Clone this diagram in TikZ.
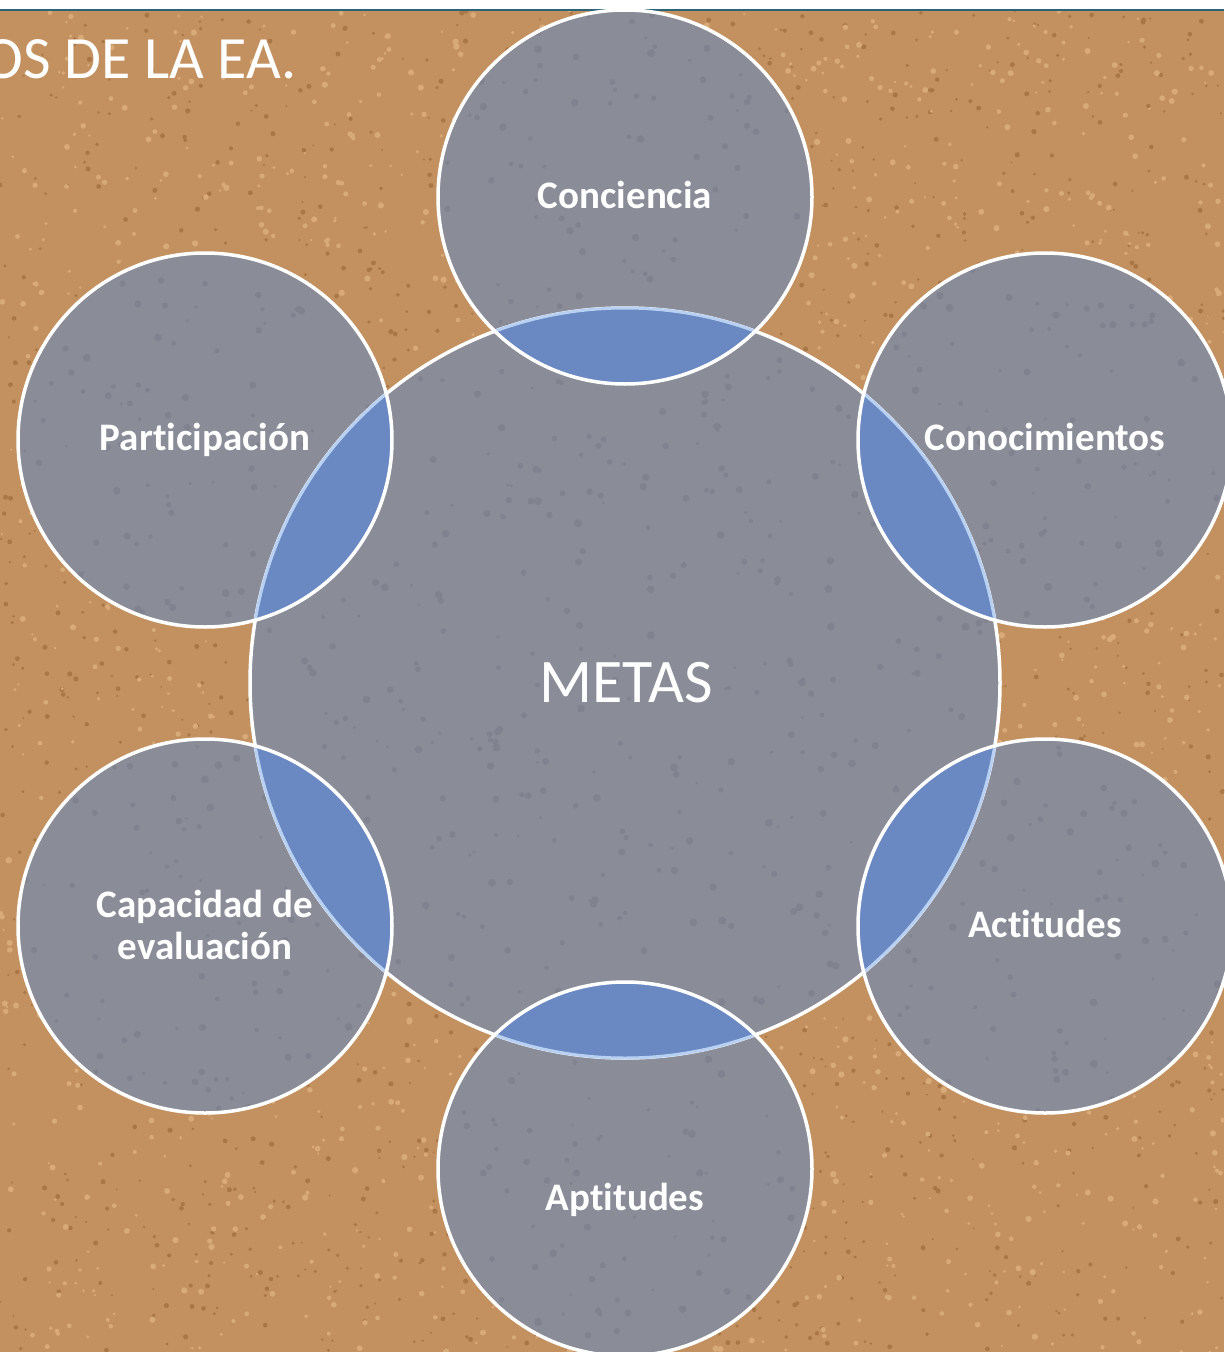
\documentclass[tikz,border=0pt]{standalone}
\usepackage{fontspec}
\usetikzlibrary{calc}
\setmainfont{Carlito}[Ligatures=NoCommon]
\definecolor{cork}{HTML}{C3915F}
\definecolor{corkdark}{HTML}{A97646}
\definecolor{corklight}{HTML}{D8AA78}
\definecolor{greyfill}{HTML}{8A8C98}
\definecolor{greydark}{HTML}{80828F}
\definecolor{lensblue}{HTML}{6A89C3}
\definecolor{lensedge}{HTML}{B8D0F2}
\definecolor{topline}{HTML}{2B6478}
\begin{document}
\begin{tikzpicture}[x=1pt,y=-1pt,
  ringfill/.style={fill=greyfill},
  ringline/.style={draw=white,line width=3.5pt},
  lbl/.style={text=white,font=\bfseries\fontsize{39}{42}\selectfont,align=center,inner sep=0pt},
  bigl/.style={text=white,font=\fontsize{62}{62}\selectfont,inner sep=0pt},
  titl/.style={text=white,font=\fontsize{60}{60}\selectfont,inner sep=0pt}]
\useasboundingbox (0,0) rectangle (1224,1352);
% background
\fill[cork] (0,9) rectangle (1224,1352);
\fill[white] (0,0) rectangle (1224,9);
\pgfmathsetseed{7}
\begin{scope}
\clip (0,10) rectangle (1224,1352);
\foreach \i in {1,...,2000}{
  \pgfmathsetmacro{\xx}{rnd*1224}\pgfmathsetmacro{\yy}{10+rnd*1342}\pgfmathsetmacro{\rr}{1+rnd*1.6}
  \fill[corkdark] (\xx,\yy) circle (\rr pt);}
\foreach \i in {1,...,2000}{
  \pgfmathsetmacro{\xx}{rnd*1224}\pgfmathsetmacro{\yy}{10+rnd*1342}\pgfmathsetmacro{\rr}{1.2+rnd*2}
  \fill[corklight] (\xx,\yy) circle (\rr pt);}
\end{scope}
\coordinate (tl) at (0,9.5);
\coordinate (tr) at (1224,9.5);
\draw[topline,line width=2pt] (tl) -- (tr);
\node[titl,anchor=base east] (title) at (297,78) {OS DE LA EA.};
% circles
\coordinate (M) at (625,683);
\coordinate (s1) at (625,197);
\coordinate (s2) at (1045,440);
\coordinate (s3) at (1045,926);
\coordinate (s4) at (625,1169);
\coordinate (s5) at (205,926);
\coordinate (s6) at (205,440);
\fill[ringfill] (M) circle (375pt);
\foreach \s in {s1,s2,s3,s4,s5,s6}{\fill[ringfill] (\s) circle (187pt);}
\begin{scope}
\clip (M) circle (375pt);
\foreach \i in {1,...,450}{
  \pgfmathsetmacro{\xx}{250+rnd*750}\pgfmathsetmacro{\yy}{308+rnd*750}\pgfmathsetmacro{\rr}{1.5+rnd*2.5}
  \fill[greydark] (\xx,\yy) circle (\rr pt);}
\end{scope}
\foreach \s in {s1,s2,s3,s4,s5,s6}{
  \begin{scope}
    \clip (\s) circle (187pt);
    \foreach \i in {1,...,110}{
      \pgfmathsetmacro{\xx}{rnd*374-187}\pgfmathsetmacro{\yy}{rnd*374-187}\pgfmathsetmacro{\rr}{1.5+rnd*2.5}
      \fill[greydark] ($(\s)+(\xx,\yy)$) circle (\rr pt);}
  \end{scope}}
\draw[ringline] (M) circle (375pt);
\foreach \s in {s1,s2,s3,s4,s5,s6}{
  \begin{scope}
    \clip (\s) circle (187pt);
    \fill[lensblue] (M) circle (375pt);
    \draw[lensedge,line width=3pt] (M) circle (375pt);
  \end{scope}}
\foreach \s in {s1,s2,s3,s4,s5,s6}{\draw[ringline] (\s) circle (187pt);}
% labels
\node[bigl,anchor=base] (metas) at (626,702) {METAS};
\node[lbl,anchor=base] (l1) at (625,208) {Conciencia};
\node[lbl,anchor=base] (l2) at (1045,450) {Conocimientos};
\node[lbl,anchor=base] (l3) at (1045,937) {Actitudes};
\node[lbl,anchor=base] (l4) at (625,1210) {Aptitudes};
\node[lbl] (l5) at (205,925) {Capacidad de\\evaluación};
\node[lbl,anchor=base] (l6) at (205,450) {Participación};
\end{tikzpicture}
\end{document}
